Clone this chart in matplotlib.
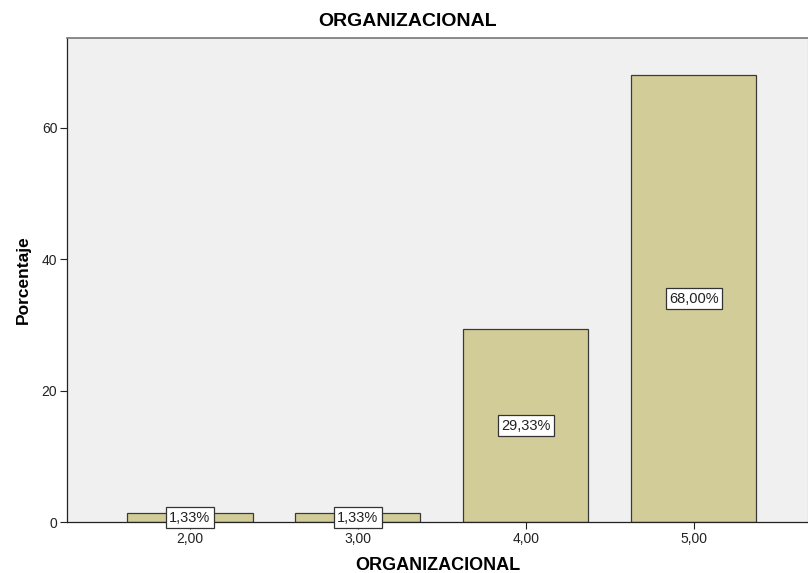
import matplotlib
matplotlib.use("Agg")
from matplotlib import pyplot as plt

categorias = [2, 3, 4, 5]
etiquetas_x = ["2,00", "3,00", "4,00", "5,00"]
porcentajes = [1.33, 1.33, 29.33, 68.00]
etiquetas_barras = ["1,33%", "1,33%", "29,33%", "68,00%"]
ticks_y = [0, 20, 40, 60]

plt.rcParams['font.family'] = ['Liberation Sans', 'DejaVu Sans']

fig = plt.figure(figsize=(8.08, 5.73), dpi=100)
ax = fig.add_axes([0.083, 0.089, 0.917, 0.845])
ax.set_facecolor("#F0F0F0")

ax.bar(categorias, porcentajes, width=0.745, color="#D2CD98",
       edgecolor="#3a3a3a", linewidth=0.9, zorder=2)

for x, v, t in zip(categorias, porcentajes, etiquetas_barras):
    ax.text(x, v / 2, t, ha="center", va="center", fontsize=10.5, zorder=3,
            color="#222222",
            bbox=dict(boxstyle="square,pad=0.22", facecolor="white",
                      edgecolor="#333333", linewidth=0.9))

ax.set_xlim(1.268, 5.68)
ax.set_ylim(0, 73.7)
ax.set_xticks(categorias)
ax.set_xticklabels(etiquetas_x)
ax.set_yticks(ticks_y)
ax.tick_params(axis="both", direction="out", length=5, width=0.8,
               labelsize=10, colors="#222222")
ax.tick_params(axis="x", pad=2)
ax.tick_params(axis="y", pad=2)

# titulo centrado en la figura, no en los ejes
fig.text(408 / 808, 1 - 22 / 573, "ORGANIZACIONAL", ha="center", va="center",
         fontsize=14, fontweight="bold")
ax.set_xlabel("ORGANIZACIONAL", fontsize=13, fontweight="bold", labelpad=8)
ax.set_ylabel("Porcentaje", fontsize=12.5, fontweight="bold", labelpad=8)

for s in ["left", "bottom"]:
    ax.spines[s].set_color("#222222")
    ax.spines[s].set_linewidth(0.9)
ax.spines["top"].set_color("#777777")
ax.spines["top"].set_linewidth(1.2)
ax.spines["right"].set_color("#777777")

fig.savefig("out.png", dpi=100)
